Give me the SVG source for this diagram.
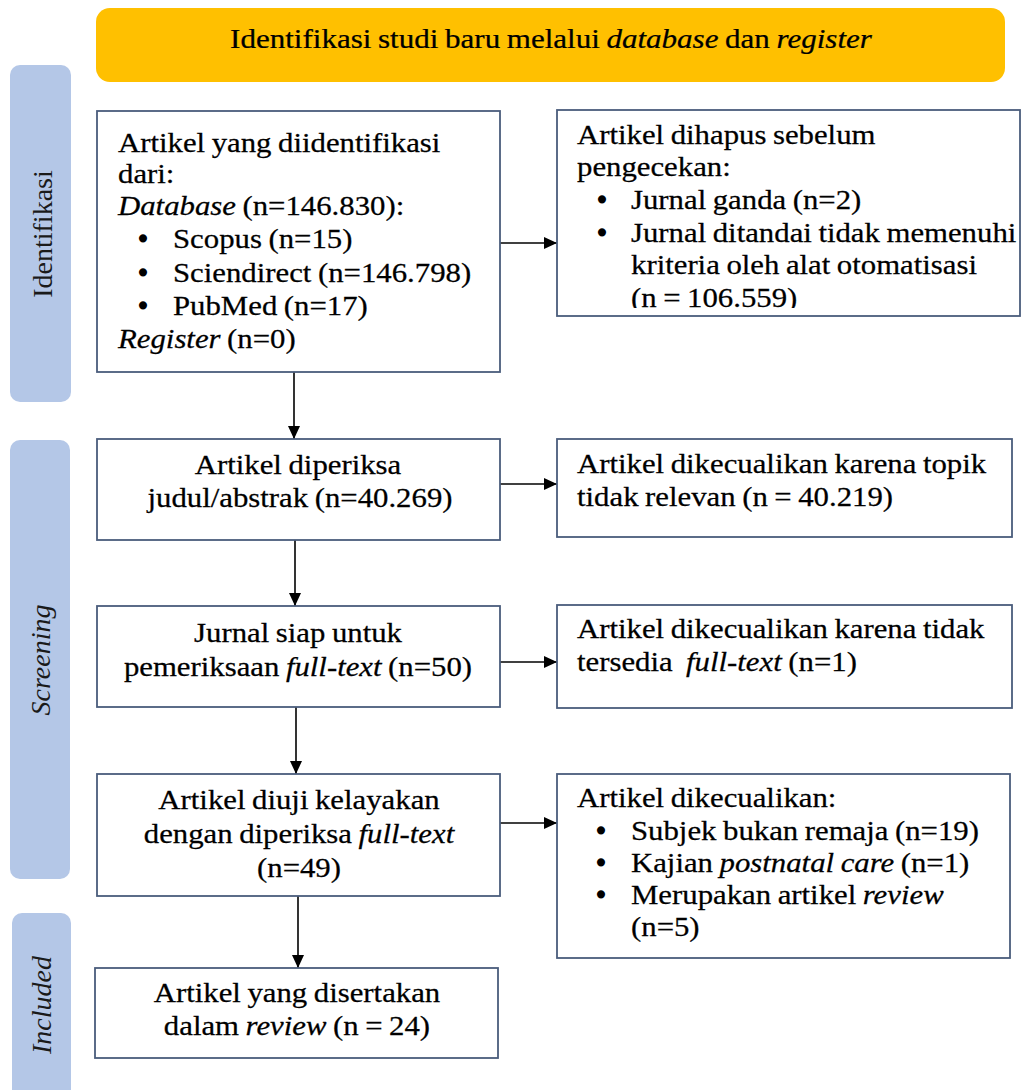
<svg xmlns="http://www.w3.org/2000/svg" width="1022" height="1090" viewBox="0 0 1022 1090">
<style>
text{font-family:'Liberation Serif',Tinos,'Times New Roman','DejaVu Serif',serif}
.t{font-size:27px;fill:#000;stroke:#000;stroke-width:0.25;word-spacing:-1px}
.b{stroke-width:1.6}
.c{text-anchor:middle}
.i{font-style:italic}
.side{font-size:28px;fill:#1a1a1a;text-anchor:middle}
.box{fill:#fff;stroke:#4a5c7c;stroke-width:1.8}
.bar{fill:#b4c7e7}
.con{stroke:#000;stroke-width:1.6;fill:none;marker-end:url(#ah)}
</style>
<defs>
<marker id="ah" markerUnits="userSpaceOnUse" markerWidth="14" markerHeight="12" refX="13" refY="6" orient="auto">
<path d="M0,0 L13,6 L0,12 z" fill="#000"/>
</marker>
<clipPath id="clip2"><rect x="557" y="110" width="465" height="198"/></clipPath>
</defs>
<rect width="1022" height="1090" fill="#fff"/>

<g id="banner">
<rect x="96" y="8" width="909" height="74" rx="14" fill="#ffc000"/>
<text class="t c" transform="translate(551,48) scale(1.15,1)">Identifikasi studi baru melalui <tspan class="i">database</tspan> dan <tspan class="i">register</tspan></text>
</g>

<g id="phase-identifikasi">
<rect class="bar" x="10" y="65" width="61" height="337" rx="10"/>
<text class="side" transform="translate(52,234) rotate(-90)">Identifikasi</text>
</g>
<g id="phase-screening">
<rect class="bar" x="10" y="440" width="60" height="439" rx="10"/>
<text class="side i" transform="translate(50,660) rotate(-90)">Screening</text>
</g>
<g id="phase-included">
<rect class="bar" x="12" y="913" width="59" height="190" rx="10"/>
<text class="side i" transform="translate(51,1005) rotate(-90)">Included</text>
</g>

<g id="connectors">
<line class="con" x1="500" y1="243" x2="557" y2="243"/>
<line class="con" x1="500" y1="484" x2="557" y2="484"/>
<line class="con" x1="500" y1="662" x2="557" y2="662"/>
<line class="con" x1="500" y1="823" x2="557" y2="823"/>
<line class="con" x1="294" y1="372" x2="294" y2="439"/>
<line class="con" x1="295" y1="540" x2="295" y2="606"/>
<line class="con" x1="296" y1="707" x2="296" y2="774"/>
<line class="con" x1="298" y1="896" x2="298" y2="968"/>
</g>

<g id="n1">
<rect class="box" x="97" y="111" width="403" height="261"/>
<text class="t" transform="translate(118,152) scale(1.14,1)">Artikel yang diidentifikasi</text>
<text class="t" transform="translate(118,183) scale(1.14,1)">dari:</text>
<text class="t" transform="translate(118,215) scale(1.14,1)"><tspan class="i">Database</tspan> (n=146.830):</text>
<text class="t b c" transform="translate(143,248)">•</text>
<text class="t" transform="translate(173,248) scale(1.14,1)">Scopus (n=15)</text>
<text class="t b c" transform="translate(143,282)">•</text>
<text class="t" transform="translate(173,282) scale(1.14,1)">Sciendirect (n=146.798)</text>
<text class="t b c" transform="translate(143,315)">•</text>
<text class="t" transform="translate(173,315) scale(1.14,1)">PubMed (n=17)</text>
<text class="t" transform="translate(118,348) scale(1.14,1)"><tspan class="i">Register</tspan> (n=0)</text>
</g>

<g id="n2">
<rect class="box" x="557" y="110" width="463" height="206"/>
<g clip-path="url(#clip2)">
<text class="t" transform="translate(577,144) scale(1.14,1)">Artikel dihapus sebelum</text>
<text class="t" transform="translate(577,176) scale(1.14,1)">pengecekan:</text>
<text class="t b c" transform="translate(602,209)">•</text>
<text class="t" transform="translate(631,209) scale(1.14,1)">Jurnal ganda (n=2)</text>
<text class="t b c" transform="translate(602,242)">•</text>
<text class="t" transform="translate(631,242) scale(1.14,1)">Jurnal ditandai tidak memenuhi</text>
<text class="t" transform="translate(631,274) scale(1.14,1)">kriteria oleh alat otomatisasi</text>
<text class="t" transform="translate(631,307) scale(1.14,1)">(n = 106.559)</text>
</g>
</g>

<g id="n3">
<rect class="box" x="97" y="439" width="403" height="101"/>
<text class="t c" transform="translate(298,474) scale(1.14,1)">Artikel diperiksa</text>
<text class="t c" transform="translate(300,507) scale(1.14,1)">judul/abstrak (n=40.269)</text>
</g>

<g id="n4">
<rect class="box" x="557" y="439" width="455" height="98"/>
<text class="t" transform="translate(577,473) scale(1.14,1)">Artikel dikecualikan karena topik</text>
<text class="t" transform="translate(577,506) scale(1.14,1)">tidak relevan (n = 40.219)</text>
</g>

<g id="n5">
<rect class="box" x="97" y="606" width="403" height="101"/>
<text class="t c" transform="translate(298,642) scale(1.14,1)">Jurnal siap untuk</text>
<text class="t c" transform="translate(298,676) scale(1.14,1)">pemeriksaan <tspan class="i">full-text</tspan> (n=50)</text>
</g>

<g id="n6">
<rect class="box" x="557" y="605" width="455" height="103"/>
<text class="t" transform="translate(577,638) scale(1.14,1)">Artikel dikecualikan karena tidak</text>
<text class="t" transform="translate(577,671) scale(1.14,1)">tersedia <tspan class="i" dx="6">full-text</tspan> (n=1)</text>
</g>

<g id="n7">
<rect class="box" x="97" y="774" width="403" height="122"/>
<text class="t c" transform="translate(299,809) scale(1.14,1)">Artikel diuji kelayakan</text>
<text class="t c" transform="translate(299,843) scale(1.14,1)">dengan diperiksa <tspan class="i">full-text</tspan></text>
<text class="t c" transform="translate(299,877) scale(1.14,1)">(n=49)</text>
</g>

<g id="n8">
<rect class="box" x="557" y="774" width="453" height="184"/>
<text class="t" transform="translate(577,807) scale(1.14,1)">Artikel dikecualikan:</text>
<text class="t b c" transform="translate(601,840)">•</text>
<text class="t" transform="translate(631,840) scale(1.14,1)">Subjek bukan remaja (n=19)</text>
<text class="t b c" transform="translate(601,872)">•</text>
<text class="t" transform="translate(631,872) scale(1.14,1)">Kajian <tspan class="i">postnatal care</tspan> (n=1)</text>
<text class="t b c" transform="translate(601,904)">•</text>
<text class="t" transform="translate(631,904) scale(1.14,1)">Merupakan artikel <tspan class="i">review</tspan></text>
<text class="t" transform="translate(631,936) scale(1.14,1)">(n=5)</text>
</g>

<g id="n9">
<rect class="box" x="95" y="968" width="403" height="90"/>
<text class="t c" transform="translate(297,1002) scale(1.14,1)">Artikel yang disertakan</text>
<text class="t c" transform="translate(297,1035) scale(1.14,1)">dalam <tspan class="i">review</tspan> (n = 24)</text>
</g>
</svg>
